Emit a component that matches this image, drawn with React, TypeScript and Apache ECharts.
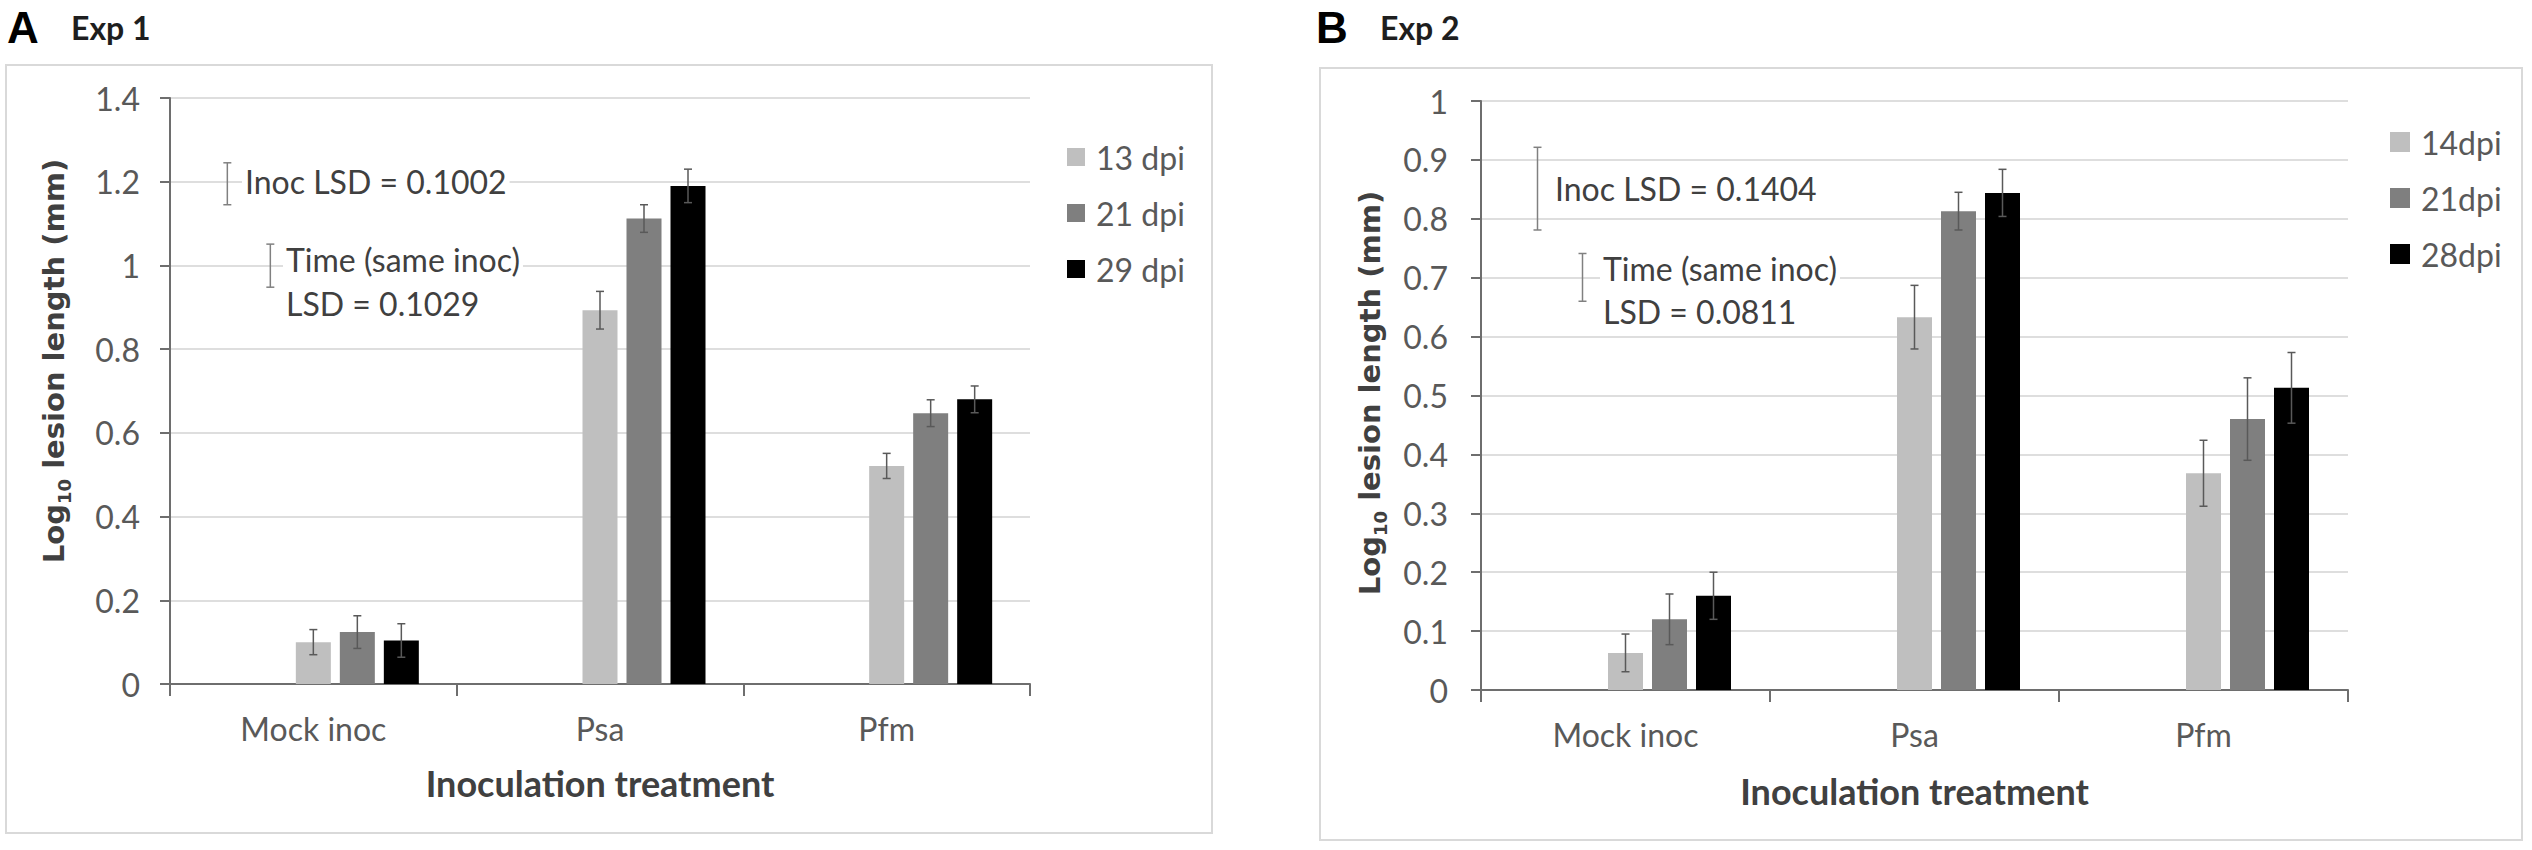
import React, { useEffect, useRef } from 'react';
import * as echarts from 'echarts';

// ---------- data ----------
const categories = ['Mock inoc', 'Psa', 'Pfm'];

const seriesNamesA = ['13 dpi', '21 dpi', '29 dpi'];
const valuesA13 = [0.1, 0.893, 0.521];
const valuesA21 = [0.124, 1.112, 0.647];
const valuesA29 = [0.104, 1.19, 0.68];
const errA13 = [0.03, 0.045, 0.03];
const errA21 = [0.039, 0.033, 0.032];
const errA29 = [0.04, 0.04, 0.032];

const seriesNamesB = ['14dpi', '21dpi', '28dpi'];
const valuesB14 = [0.063, 0.633, 0.368];
const valuesB21 = [0.12, 0.813, 0.46];
const valuesB28 = [0.16, 0.844, 0.513];
const errB14 = [0.032, 0.054, 0.056];
const errB21 = [0.043, 0.032, 0.07];
const errB28 = [0.04, 0.04, 0.06];

const lsdA = [0.1002, 0.1029];
const lsdB = [0.1404, 0.0811];
const lsdBaseA = [1.145, 0.948];
const lsdBaseB = [0.781, 0.66];
const lsdTextA = ['Inoc LSD = 0.1002', 'Time (same inoc)', 'LSD = 0.1029'];
const lsdTextB = ['Inoc LSD = 0.1404', 'Time (same inoc)', 'LSD = 0.0811'];

const yAxisA = { min: 0, max: 1.4, interval: 0.2 };
const yAxisB = { min: 0, max: 1, interval: 0.1 };

// ---------- styles / layout ----------
const FONT = "Lato, 'Liberation Sans', sans-serif";
const WIDE_FONT = "'DejaVu Sans', Verdana, sans-serif";
const COLORS = ['#bfbfbf', '#7f7f7f', '#000000'];
const BAR_W = 35;
const GAP_PX = 9;
const STEP = BAR_W + GAP_PX;
const ERR_COLOR = '#595959';
const LSD_COLOR = '#808080';
const TEXT_GRAY = '#595959';
const TITLE_GRAY = '#404040';
const lsdOffsetA = [-86, -43];
const lsdOffsetB = [-88, -43];

function padSeries(grid: number, idx: number) {
  return {
    type: 'bar',
    name: `_pad${grid}_${idx}`,
    xAxisIndex: grid,
    yAxisIndex: grid,
    data: categories.map(() => null),
    barWidth: BAR_W,
    barGap: `${(GAP_PX / BAR_W) * 100}%`,
  };
}

function barSeries(grid: number, name: string, values: number[], color: string) {
  return {
    type: 'bar',
    name,
    xAxisIndex: grid,
    yAxisIndex: grid,
    data: values,
    barWidth: BAR_W,
    barGap: `${(GAP_PX / BAR_W) * 100}%`,
    itemStyle: { color },
    z: 2,
  };
}

function errSeries(grid: number, values: number[], errs: number[], slot: number) {
  return {
    type: 'custom',
    xAxisIndex: grid,
    yAxisIndex: grid,
    silent: true,
    z: 5,
    data: values.map((v, i) => [i, v - errs[i], v + errs[i]]),
    encode: { x: 0, y: [1, 2] },
    renderItem: (_p: any, api: any) => {
      const lo = api.coord([api.value(0), api.value(1)]);
      const hi = api.coord([api.value(0), api.value(2)]);
      const x = lo[0] + slot * STEP;
      const cap = 4;
      const st = { stroke: ERR_COLOR, lineWidth: 1.5 };
      return {
        type: 'group',
        children: [
          { type: 'line', shape: { x1: x, y1: lo[1], x2: x, y2: hi[1] }, style: st },
          { type: 'line', shape: { x1: x - cap, y1: lo[1], x2: x + cap, y2: lo[1] }, style: st },
          { type: 'line', shape: { x1: x - cap, y1: hi[1], x2: x + cap, y2: hi[1] }, style: st },
        ],
      };
    },
  };
}

function lsdSeries(grid: number, lsd: number[], base: number[], offsets: number[]) {
  return {
    type: 'custom',
    xAxisIndex: grid,
    yAxisIndex: grid,
    silent: true,
    z: 5,
    data: lsd.map((v, i) => [0, base[i], base[i] + v, i]),
    encode: { x: 0, y: [1, 2] },
    renderItem: (_p: any, api: any) => {
      const lo = api.coord([api.value(0), api.value(1)]);
      const hi = api.coord([api.value(0), api.value(2)]);
      const x = lo[0] + offsets[api.value(3)];
      const cap = 4;
      const st = { stroke: LSD_COLOR, lineWidth: 1.5 };
      return {
        type: 'group',
        children: [
          { type: 'line', shape: { x1: x, y1: lo[1], x2: x, y2: hi[1] }, style: st },
          { type: 'line', shape: { x1: x - cap, y1: lo[1], x2: x + cap, y2: lo[1] }, style: st },
          { type: 'line', shape: { x1: x - cap, y1: hi[1], x2: x + cap, y2: hi[1] }, style: st },
        ],
      };
    },
  };
}

function xAxis(grid: number, nameGap: number) {
  return {
    type: 'category',
    gridIndex: grid,
    data: categories,
    boundaryGap: true,
    name: 'Inoculation treatment',
    nameLocation: 'middle',
    nameGap,
    nameTextStyle: { fontFamily: FONT, fontSize: 36, fontWeight: 'bold', color: TITLE_GRAY },
    axisLine: { show: true, lineStyle: { color: '#6e6e6e', width: 2 } },
    axisTick: { show: true, length: 12, lineStyle: { color: '#6e6e6e', width: 2 } },
    axisLabel: { fontFamily: FONT, fontSize: 32, color: TEXT_GRAY, margin: 28 },
    splitLine: { show: false },
  };
}

function yAxis(grid: number, cfg: { min: number; max: number; interval: number }, margin: number) {
  return {
    type: 'value',
    gridIndex: grid,
    min: cfg.min,
    max: cfg.max,
    interval: cfg.interval,
    axisLine: { show: true, lineStyle: { color: '#6e6e6e', width: 2 } },
    axisTick: { show: true, length: 10, lineStyle: { color: '#6e6e6e', width: 2 } },
    axisLabel: { fontFamily: FONT, fontSize: 32, color: TEXT_GRAY, margin },
    splitLine: { show: true, lineStyle: { color: '#dedede', width: 2 } },
  };
}

function legend(names: string[], left: number, top: number, size: number) {
  return {
    orient: 'vertical',
    left,
    top,
    padding: 0,
    icon: 'rect',
    itemWidth: size,
    itemHeight: size,
    itemGap: 22,
    selectedMode: false,
    data: names,
    textStyle: { fontFamily: FONT, fontSize: 32, color: TEXT_GRAY, lineHeight: 34, padding: [0, 0, 0, 6] },
  };
}

function txt(x: number, y: number, text: string, extra: any = {}) {
  return {
    type: 'text',
    x,
    y,
    silent: true,
    z: 10,
    style: {
      text,
      fontFamily: FONT,
      fontSize: 32,
      fill: TITLE_GRAY,
      align: 'left',
      verticalAlign: 'middle',
      textAlign: 'left',
      textVerticalAlign: 'middle',
      ...extra,
    },
  };
}

function boxedTxt(x: number, y: number, text: string) {
  return txt(x - 3, y, text, { backgroundColor: '#ffffff', padding: [2, 3, 2, 3] });
}

function yTitle(x: number, y: number) {
  return {
    type: 'text',
    x,
    y,
    rotation: Math.PI / 2,
    silent: true,
    style: {
      text: '{a|Log}{b|10}{a| lesion length (mm)}',
      align: 'center',
      verticalAlign: 'middle',
      textAlign: 'center',
      textVerticalAlign: 'middle',
      fill: TITLE_GRAY,
      rich: {
        a: { fontFamily: WIDE_FONT, fontSize: 29, fontWeight: 'bold', fill: TITLE_GRAY, color: TITLE_GRAY, lineHeight: 38 },
        b: {
          fontFamily: WIDE_FONT,
          fontSize: 18,
          fontWeight: 'bold',
          fill: TITLE_GRAY,
          color: TITLE_GRAY,
          lineHeight: 20,
          verticalAlign: 'bottom',
        },
      },
    },
  };
}

export default function App() {
  const ref = useRef<HTMLDivElement>(null);

  useEffect(() => {
    document.body.style.margin = '0';
    if (!ref.current) return;
    const chart = echarts.init(ref.current, undefined, { renderer: 'svg' });

    const option: any = {
      animation: false,
      backgroundColor: '#ffffff',
      textStyle: { fontFamily: FONT },
      grid: [
        { left: 170, top: 98, width: 860, height: 586 },
        { left: 1481, top: 101, width: 867, height: 589 },
      ],
      xAxis: [xAxis(0, 81), xAxis(1, 83)],
      yAxis: [yAxis(0, yAxisA, 30), yAxis(1, yAxisB, 33)],
      legend: [legend(seriesNamesA, 1067, 140, 18), legend(seriesNamesB, 2390, 125, 20)],
      series: [
        padSeries(0, 0),
        padSeries(0, 1),
        barSeries(0, seriesNamesA[0], valuesA13, COLORS[0]),
        barSeries(0, seriesNamesA[1], valuesA21, COLORS[1]),
        barSeries(0, seriesNamesA[2], valuesA29, COLORS[2]),
        errSeries(0, valuesA13, errA13, 0),
        errSeries(0, valuesA21, errA21, 1),
        errSeries(0, valuesA29, errA29, 2),
        lsdSeries(0, lsdA, lsdBaseA, lsdOffsetA),
        padSeries(1, 0),
        padSeries(1, 1),
        barSeries(1, seriesNamesB[0], valuesB14, COLORS[0]),
        barSeries(1, seriesNamesB[1], valuesB21, COLORS[1]),
        barSeries(1, seriesNamesB[2], valuesB28, COLORS[2]),
        errSeries(1, valuesB14, errB14, 0),
        errSeries(1, valuesB21, errB21, 1),
        errSeries(1, valuesB28, errB28, 2),
        lsdSeries(1, lsdB, lsdBaseB, lsdOffsetB),
      ],
      graphic: [
        { type: 'rect', z: -1, silent: true, shape: { x: 6, y: 65, width: 1206, height: 768 }, style: { fill: 'none', stroke: '#d9d9d9', lineWidth: 2 } },
        { type: 'rect', z: -1, silent: true, shape: { x: 1320, y: 68, width: 1202, height: 772 }, style: { fill: 'none', stroke: '#d9d9d9', lineWidth: 2 } },
        txt(7, 27, 'A', { fontFamily: "'Liberation Sans', Arial, sans-serif", fontSize: 44, fontWeight: 'bold', fill: '#000', lineHeight: 44 }),
        txt(71, 27, 'Exp 1', { fontSize: 32, fontWeight: 'bold', fill: '#1e1e1e' }),
        txt(1316, 27, 'B', { fontFamily: "'Liberation Sans', Arial, sans-serif", fontSize: 44, fontWeight: 'bold', fill: '#000', lineHeight: 44 }),
        txt(1380, 27, 'Exp 2', { fontSize: 32, fontWeight: 'bold', fill: '#1e1e1e' }),
        yTitle(54, 361),
        yTitle(1370, 393),
        boxedTxt(245, 181, lsdTextA[0]),
        boxedTxt(286, 259, lsdTextA[1]),
        boxedTxt(286, 303, lsdTextA[2]),
        boxedTxt(1555, 188, lsdTextB[0]),
        boxedTxt(1603, 268, lsdTextB[1]),
        boxedTxt(1603, 311, lsdTextB[2]),
      ],
    };

    chart.setOption(option);
    return () => chart.dispose();
  }, []);

  return <div ref={ref} style={{ width: 2532, height: 850, display: 'block' }} />;
}
